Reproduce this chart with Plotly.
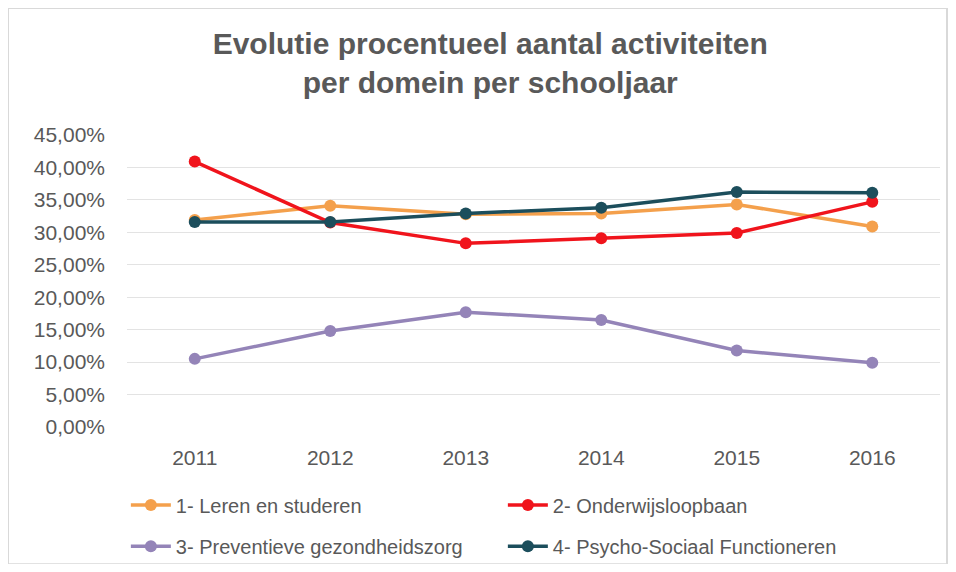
import plotly.graph_objects as go

years = ["2011", "2012", "2013", "2014", "2015", "2016"]
leren = [0.319, 0.341, 0.328, 0.329, 0.343, 0.309]
onderwijs = [0.409, 0.315, 0.283, 0.291, 0.299, 0.347]
preventief = [0.105, 0.148, 0.177, 0.165, 0.118, 0.099]
psycho = [0.316, 0.316, 0.329, 0.338, 0.362, 0.361]

names = ["1- Leren en studeren", "2- Onderwijsloopbaan",
         "3- Preventieve gezondheidszorg", "4- Psycho-Sociaal Functioneren"]
colors = ["#F4A04C", "#F0141C", "#9484B8", "#1C4E5C"]
series = [leren, onderwijs, preventief, psycho]
legend_ids = ["legend", "legend", "legend2", "legend2"]

fig = go.Figure()
for n, c, s, lg in zip(names, colors, series, legend_ids):
    fig.add_trace(go.Scatter(
        x=years, y=s, name=n, mode="lines+markers",
        line=dict(color=c, width=3.5),
        marker=dict(color=c, size=12),
        legend=lg,
    ))

text_col = "#595959"
legend_common = dict(
    orientation="h", xanchor="left", yanchor="middle",
    entrywidth=322, entrywidthmode="pixels",
    font=dict(family="Liberation Sans, Arial", size=20, color=text_col),
    itemwidth=40, traceorder="normal", bgcolor="rgba(0,0,0,0)",
)

fig.update_layout(
    width=940, height=556,
    paper_bgcolor="white", plot_bgcolor="white",
    margin=dict(l=119, r=8, t=127, b=137, autoexpand=False),
    separators=",.",
    title=dict(
        text="Evolutie procentueel aantal activiteiten<br>per domein per schooljaar",
        x=0.513, xanchor="center", y=0.918, yanchor="top",
        font=dict(family="Liberation Sans, Arial", size=30, color=text_col, weight="bold"),
    ),
    font=dict(family="Liberation Sans, Arial", color=text_col),
    xaxis=dict(
        type="category", range=[-0.5, 5.5], showgrid=False, zeroline=False,
        showline=False, ticks="", tickfont=dict(size=21, color=text_col),
        ticklabelstandoff=16,
    ),
    yaxis=dict(
        range=[0, 0.45], dtick=0.05, tickformat=".2%",
        showgrid=True, gridcolor="#E3E3E3", gridwidth=1.2,
        zeroline=False, showline=False, ticks="",
        tickfont=dict(size=21, color=text_col), ticklabelstandoff=21,
    ),
    legend=dict(x=-0.0014, y=-0.267, **legend_common),
    legend2=dict(x=-0.0014, y=-0.408, **legend_common),
    shapes=[dict(type="rect", xref="paper", yref="paper",
                 x0=-0.1464, x1=1.0086, y0=-0.47, y1=1.435,
                 line=dict(color="#D9D9D9", width=2))],
)

fig.write_html("out.html")
